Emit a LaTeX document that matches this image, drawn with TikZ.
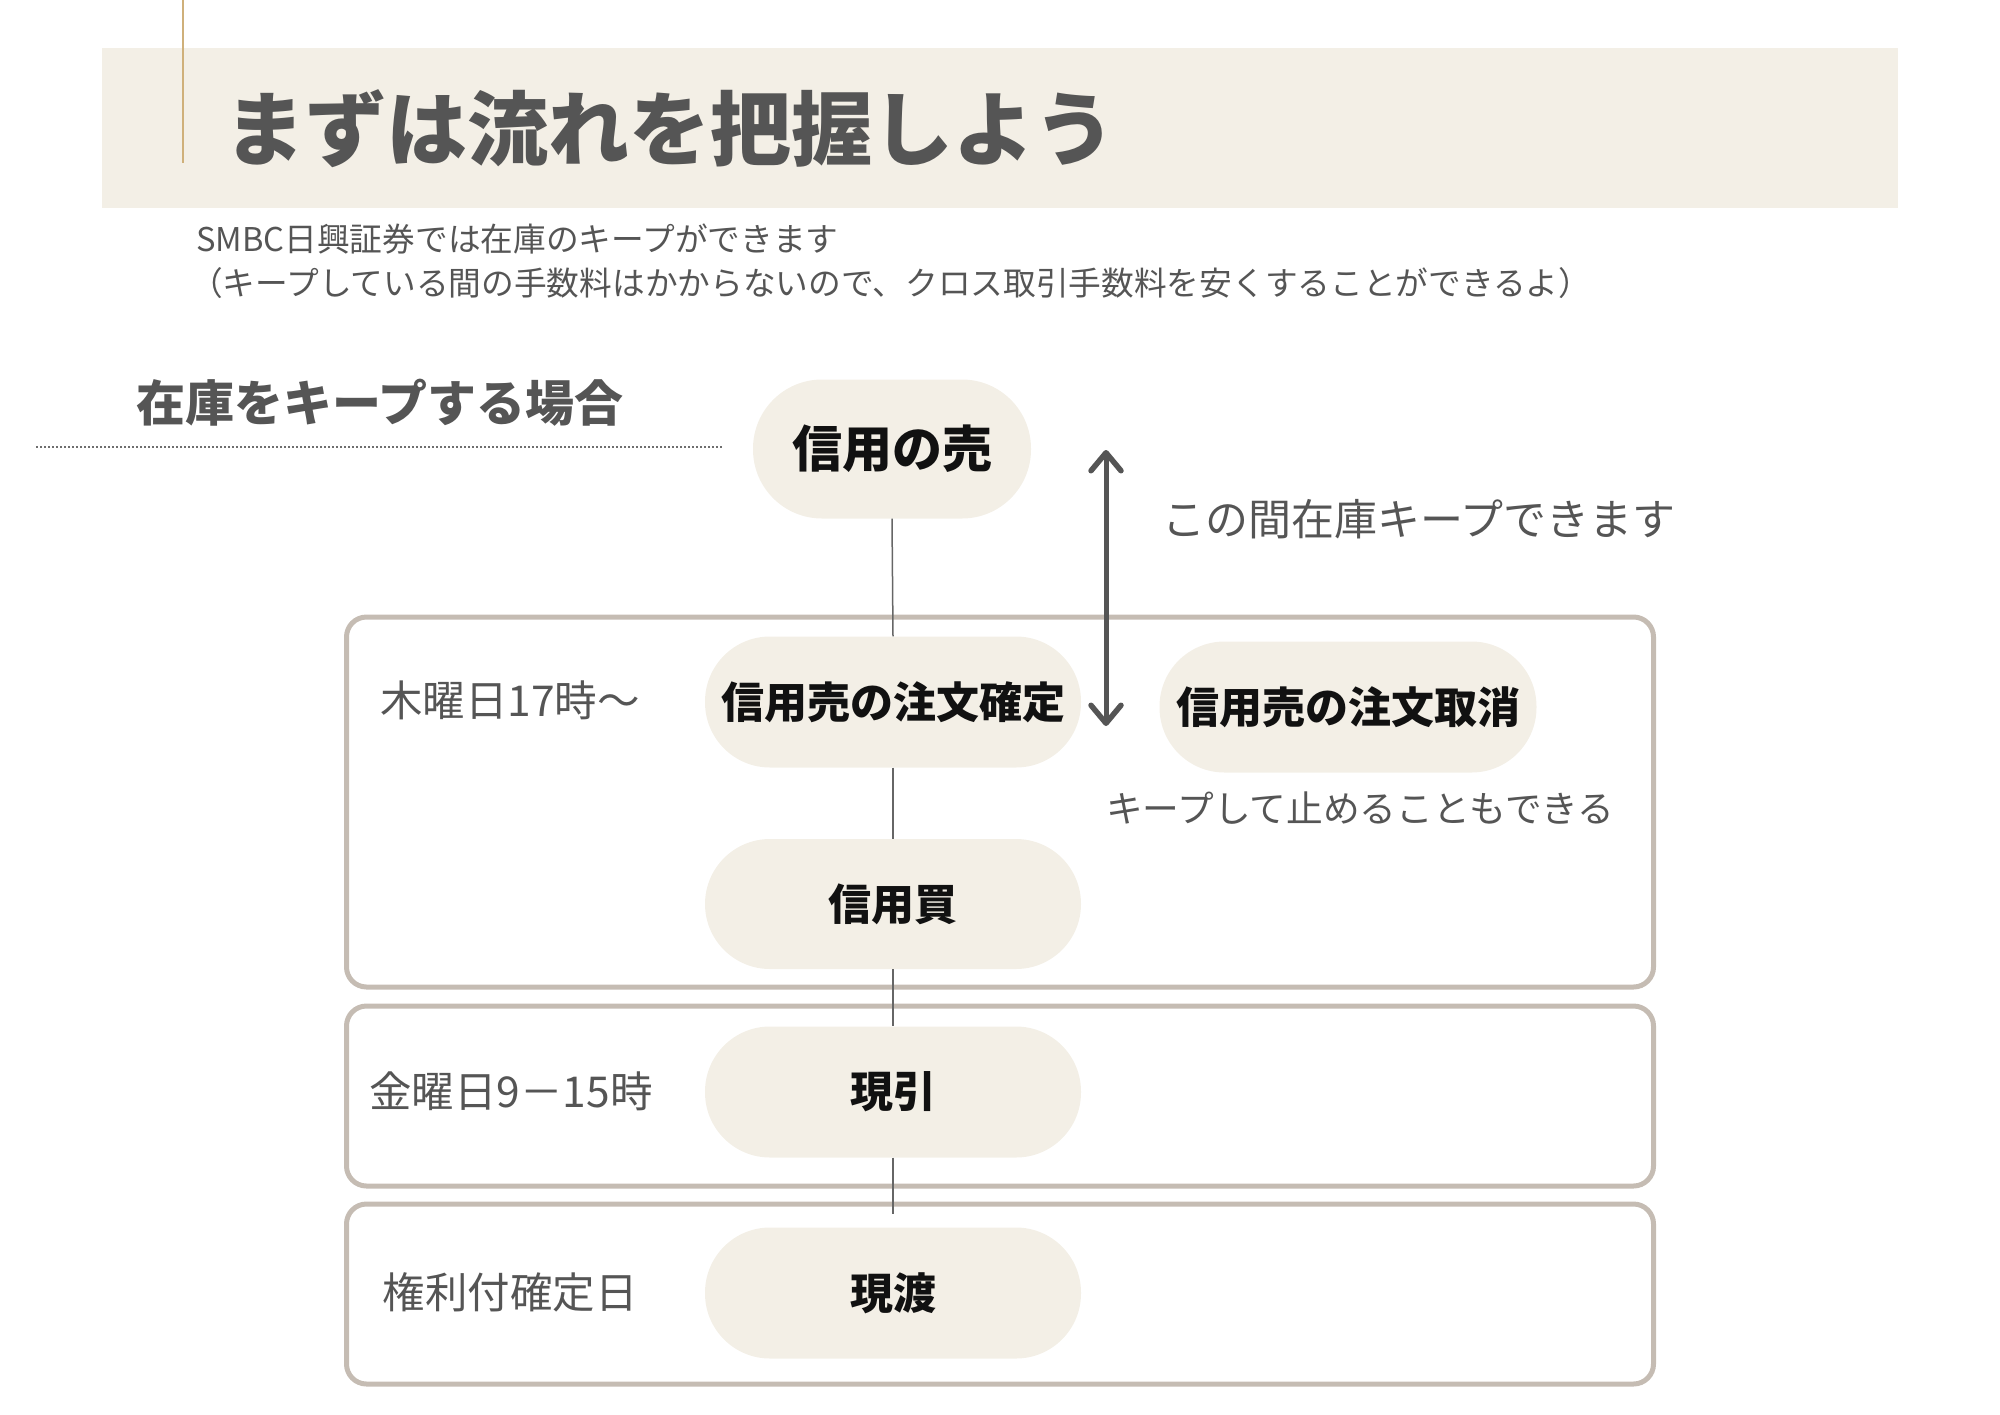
\documentclass[tikz,border=0pt]{standalone}
\usepackage{fontspec}
\setmainfont{Noto Sans CJK JP}
\usetikzlibrary{arrows.meta}
\definecolor{band}{HTML}{F3EFE6}
\definecolor{gold}{HTML}{CFB07A}
\definecolor{frame}{HTML}{C5BCB3}
\definecolor{ink}{HTML}{555555}
\definecolor{txt}{HTML}{111111}
\definecolor{conn}{HTML}{666666}
\tikzset{
  pill/.style={rectangle, fill=band, rounded corners=65pt, minimum width=376pt,
    minimum height=131pt, inner sep=0pt, text=txt,
    font=\fontsize{43}{50}\selectfont\bfseries},
  panel/.style={rectangle, draw=frame, line width=5pt, rounded corners=20pt,
    minimum width=1307pt, inner sep=0pt},
  daylabel/.style={text=ink, inner sep=0pt, font=\fontsize{42.5}{50}\selectfont},
  note/.style={text=ink, inner sep=0pt, anchor=west},
  conn/.style={draw=conn, line width=1.5pt},
  keeparrow/.style={draw=ink, line width=5pt,
    {Straight Barb[length=18pt,width=30pt,line width=5.5pt,line cap=round,line join=round]}-{Straight Barb[length=18pt,width=30pt,line width=5.5pt,line cap=round,line join=round]}}
}
\begin{document}
\begin{tikzpicture}[x=1pt,y=-1pt]
\useasboundingbox (0,0) rectangle (2000,1414);
% header band
\fill[band] (102,48) rectangle (1898,208);
\draw[gold, line width=2.5pt] (183,0) -- (183,163);
\node[anchor=west, inner sep=0pt, text=ink, font=\fontsize{81}{90}\selectfont\bfseries] (title) at (224,129) {まずは流れを把握しよう};
\node[note, font=\fontsize{32.7}{38}\selectfont] (sub1) at (196,239) {SMBC日興証券では在庫のキープができます};
\node[note, font=\fontsize{32.7}{38}\selectfont] (sub2) at (190,283) {（キープしている間の手数料はかからないので、クロス取引手数料を安くすることができるよ）};
% section heading
\node[note, font=\fontsize{49}{56}\selectfont\bfseries] (head) at (136,403) {在庫をキープする場合};
\draw[ink!85, line width=2pt, dash pattern=on 2pt off 2pt] (36,447) -- (723,447);
% panels
\node[panel, minimum height=370pt] (p1) at (1000,802) {};
\node[panel, minimum height=180pt] (p2) at (1000,1096) {};
\node[panel, minimum height=180pt] (p3) at (1000,1294) {};
% day labels
\node[daylabel] (d1) at (510,700) {木曜日17時〜};
\node[daylabel] (d2) at (511,1091) {金曜日9－15時};
\node[daylabel] (d3) at (510,1292) {権利付確定日};
% pills
\node[pill, minimum width=278pt, minimum height=139pt, rounded corners=69pt, font=\fontsize{50}{58}\selectfont\bfseries] (sell) at (892,449) {信用の売};
\node[pill] (confirm) at (893,702) {信用売の注文確定};
\node[pill, minimum width=377pt] (cancel) at (1348,707) {信用売の注文取消};
\node[pill, minimum height=130pt] (buy) at (893,904) {信用買};
\node[pill] (genbiki) at (893,1092) {現引};
\node[pill] (genwatashi) at (893,1293) {現渡};
% connectors
\coordinate (lastend) at (893,1214);
\draw[conn] (sell.south) -- (confirm.north);
\draw[conn] (confirm.south) -- (buy.north);
\draw[conn] (buy.south) -- (genbiki.north);
\draw[conn] (genbiki.south) -- (lastend);
% keep arrow
\coordinate (atop) at (1106,450);
\coordinate (abot) at (1106,726);
\draw[keeparrow] (atop) -- (abot);
\node[note, font=\fontsize{43}{50}\selectfont] (keep) at (1162,519) {この間在庫キープできます};
\node[note, font=\fontsize{36.7}{42}\selectfont] (stop) at (1106,808) {キープして止めることもできる};
\end{tikzpicture}
\end{document}
